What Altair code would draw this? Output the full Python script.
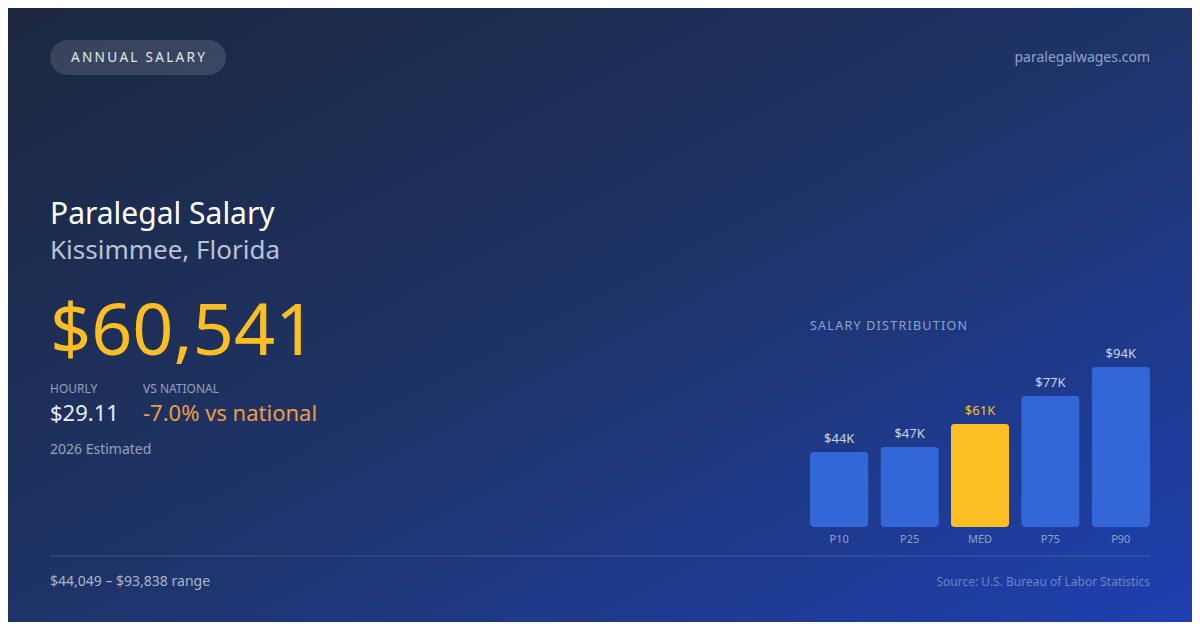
import altair as alt
import pandas as pd

# ---- data ----
categories = ["P10", "P25", "MED", "P75", "P90"]
salaries = [44049, 47000, 60541, 77000, 93838]
value_labels = ["$44K", "$47K", "$61K", "$77K", "$94K"]
highlight = [False, False, True, False, False]

badge_text = "ANNUAL SALARY"
site_text = "paralegalwages.com"
title_text = "Paralegal Salary"
location_text = "Kissimmee, Florida"
median_text = "$60,541"
hourly_label = "HOURLY"
hourly_value = "$29.11"
national_label = "VS NATIONAL"
national_value = "-7.0% vs national"
estimate_text = "2026 Estimated"
dist_title = "SALARY DISTRIBUTION"
range_text = "$44,049 \u2013 $93,838 range"
source_text = "Source: U.S. Bureau of Labor Statistics"

W, H = 1184, 614
O = 8  # page margin offset
FONT = "Noto Sans"


def spaced(s, sp):
    return sp.join(list(s))


def txt(s, x, y, size, color, align="left", baseline="alphabetic", weight="normal"):
    return alt.Chart(pd.DataFrame({"t": [s]})).mark_text(
        align=align, baseline=baseline, fontSize=size, color=color,
        font=FONT, fontWeight=weight,
    ).encode(text="t:N", x=alt.value(x - O), y=alt.value(y - O))


one = pd.DataFrame({"a": [0]})

bg = alt.Chart(one).mark_rect(
    fill=alt.Gradient(
        gradient="linear", x1=0, y1=0, x2=1, y2=1,
        stops=[alt.GradientStop(color="#1c283f", offset=0),
               alt.GradientStop(color="#1e3468", offset=0.5),
               alt.GradientStop(color="#1e40b0", offset=1)],
    )
).encode(x=alt.value(0), x2=alt.value(W), y=alt.value(0), y2=alt.value(H))

pill = alt.Chart(one).mark_rect(cornerRadius=17.5, fill="#ffffff", fillOpacity=0.13).encode(
    x=alt.value(50 - O), x2=alt.value(226 - O), y=alt.value(40 - O), y2=alt.value(75 - O)
)

divider = alt.Chart(one).mark_rule(stroke="#ffffff", strokeOpacity=0.15, strokeWidth=1).encode(
    x=alt.value(50 - O), x2=alt.value(1150 - O), y=alt.value(556 - O)
)

bars_df = pd.DataFrame({
    "cat": categories, "val": salaries, "lab": value_labels, "hi": highlight,
})

xs = alt.X("cat:N", sort=categories, axis=None,
           scale=alt.Scale(range=[810 - O, 1150 - O], paddingInner=0.17, paddingOuter=0))
ys = alt.Y("val:Q", axis=None,
           scale=alt.Scale(domain=[0, 93838], range=[527 - O, 367 - O], nice=False, zero=True))
col = alt.condition("datum.hi", alt.value("#fbbf24"), alt.value("#3366d6"))

bars = alt.Chart(bars_df).mark_bar(cornerRadius=4).encode(x=xs, y=ys, color=col)
bar_labels = alt.Chart(bars_df).mark_text(
    baseline="alphabetic", dy=-9, fontSize=13, font=FONT
).encode(
    x=xs, y=ys, text="lab:N",
    color=alt.condition("datum.hi", alt.value("#fbbf24"), alt.value("#cbd5e1")),
)
cat_labels = alt.Chart(bars_df).mark_text(
    baseline="middle", fontSize=11, font=FONT, color="#8fa2c8"
).encode(x=xs, y=alt.value(540 - O), text="cat:N")

layers = [
    bg, pill, divider,
    txt(spaced(badge_text, "\u2006"), 138, 58, 13.6, "#e2e8f0", align="center", baseline="middle"),
    txt(site_text, 1150, 58, 14, "#8ea3cf", align="right", baseline="middle"),
    txt(title_text, 50, 224, 30, "#ffffff"),
    txt(location_text, 50, 259, 26, "#b8c3d5"),
    txt(median_text, 50, 355, 72, "#fbbf24"),
    txt(hourly_label, 50, 389, 12, "#94a3b8", baseline="middle"),
    txt(national_label, 143, 389, 12, "#94a3b8", baseline="middle"),
    txt(hourly_value, 50, 421, 22, "#e8edf5"),
    txt(national_value, 143, 421, 22, "#f29b45"),
    txt(estimate_text, 50, 450, 14, "#94a3b8", baseline="middle"),
    txt(spaced(dist_title, "\u200a"), 810, 326, 12.5, "#8ea3cc", baseline="middle"),
    bars, bar_labels, cat_labels,
    txt(range_text, 50, 582, 14, "#a9b6cb", baseline="middle"),
    txt(source_text, 1150, 582, 12, "#6b85c8", align="right", baseline="middle"),
]

chart = alt.layer(*layers).properties(
    width=W, height=H, padding=0, autosize=alt.AutoSizeParams(type="none"),
).configure_view(stroke=None).configure(background="#1c283f")

chart.save("out.html", embed_options={"renderer": "svg", "actions": False})
